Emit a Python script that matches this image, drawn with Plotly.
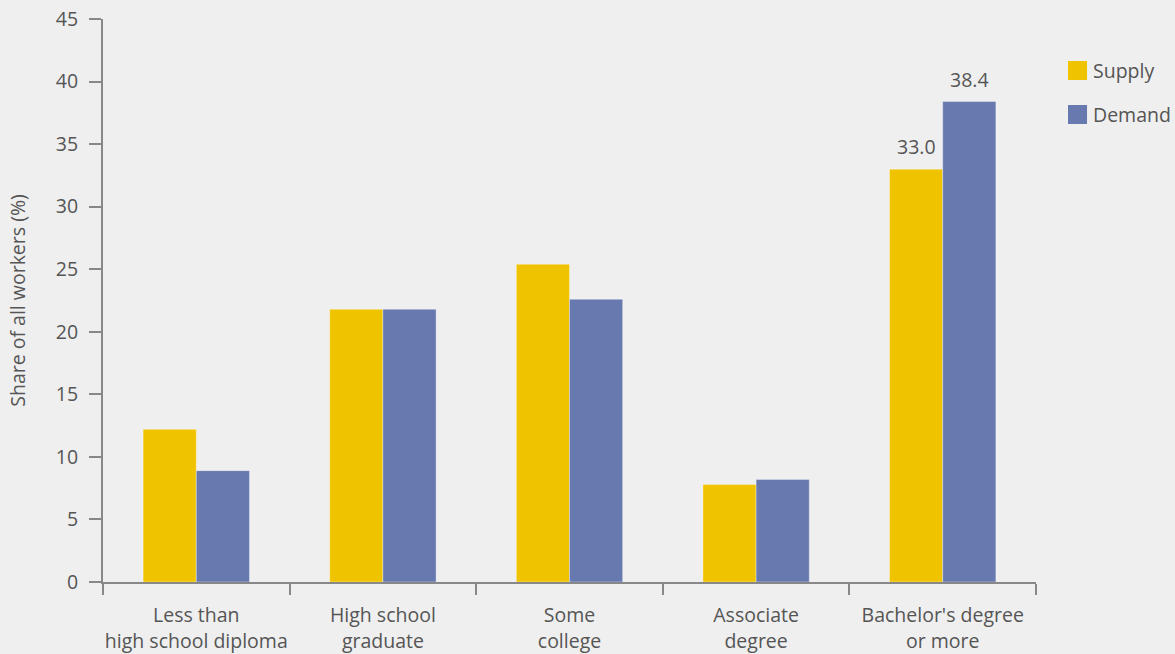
import plotly.graph_objects as go

categories = ["Less than<br>high school diploma", "High school<br>graduate", "Some<br>college",
              "Associate<br>degree", "Bachelor's degree<br>or more"]
supply = [12.2, 21.8, 25.4, 7.8, 33.0]
demand = [8.9, 21.8, 22.6, 8.2, 38.4]
supply_labels = ["", "", "", "", "33.0"]
demand_labels = ["", "", "", "", "38.4"]
y_ticks = [0, 5, 10, 15, 20, 25, 30, 35, 40, 45]
series_names = ["Supply", "Demand"]

SUPPLY_C = "#F0C300"
DEMAND_C = "#6879B0"
TEXT_C = "#555555"
AXIS_C = "#888888"
BG = "#EFEFEF"
FONT = "Open Sans"
FS = 19.5

fig = go.Figure()
fig.add_trace(go.Bar(x=categories, y=supply, name=series_names[0], marker_color=SUPPLY_C,
                     marker_line=dict(width=1, color="rgba(255,255,255,0.35)"),
                     showlegend=False, offsetgroup="s"))
fig.add_trace(go.Bar(x=categories, y=demand, name=series_names[1], marker_color=DEMAND_C,
                     marker_line=dict(width=1, color="rgba(255,255,255,0.35)"),
                     showlegend=False, offsetgroup="d"))

# value labels above the last group's bars (positioned via data coordinates)
for vals, labels, xs in [(supply, supply_labels, -0.5), (demand, demand_labels, 0.5)]:
    for i, (v, lab) in enumerate(zip(vals, labels)):
        if lab:
            fig.add_annotation(x=categories[i], y=v, xref="x", yref="y", text=lab,
                               showarrow=False, yanchor="bottom", yshift=7,
                               xshift=xs * 53, font=dict(size=FS, color=TEXT_C, family=FONT))

# Custom legend (square swatches) in paper coordinates
legend_items = [(series_names[0], SUPPLY_C, 0.9254), (series_names[1], DEMAND_C, 0.8472)]
sq_h = 0.0337
for name, col, ytop in legend_items:
    fig.add_shape(type="rect", xref="paper", yref="paper", x0=1.0343, x1=1.0547,
                  y0=ytop - sq_h, y1=ytop, fillcolor=col, line=dict(width=0))
    fig.add_annotation(xref="paper", yref="paper", x=1.0585, y=ytop - sq_h / 2,
                       xanchor="left", yanchor="middle", text=name, showarrow=False,
                       font=dict(size=19.5, color=TEXT_C, family=FONT))

fig.update_layout(
    width=1175, height=654,
    paper_bgcolor=BG, plot_bgcolor=BG,
    margin=dict(l=103, r=139, t=19, b=72),
    barmode="group", bargap=0.43, bargroupgap=0,
    font=dict(family=FONT, size=FS, color=TEXT_C),
    showlegend=False,
    xaxis=dict(showline=True, linecolor=AXIS_C, linewidth=2, ticks="outside",
               tickson="boundaries", ticklen=11, tickwidth=2, tickcolor=AXIS_C, tickangle=0,
               showgrid=False, tickfont=dict(size=FS, color=TEXT_C), ticklabelstandoff=15,
               automargin=False),
    yaxis=dict(range=[0, 45], tickvals=y_ticks, showline=True, linecolor=AXIS_C, linewidth=2,
               ticks="outside", ticklen=12, tickwidth=2, tickcolor=AXIS_C, showgrid=False,
               zeroline=False, tickfont=dict(size=FS, color=TEXT_C), ticklabelstandoff=7,
               automargin=False,
               title=dict(text="Share of all workers (%)", font=dict(size=FS, color=TEXT_C), standoff=25)),
)

fig.write_html("out.html")
